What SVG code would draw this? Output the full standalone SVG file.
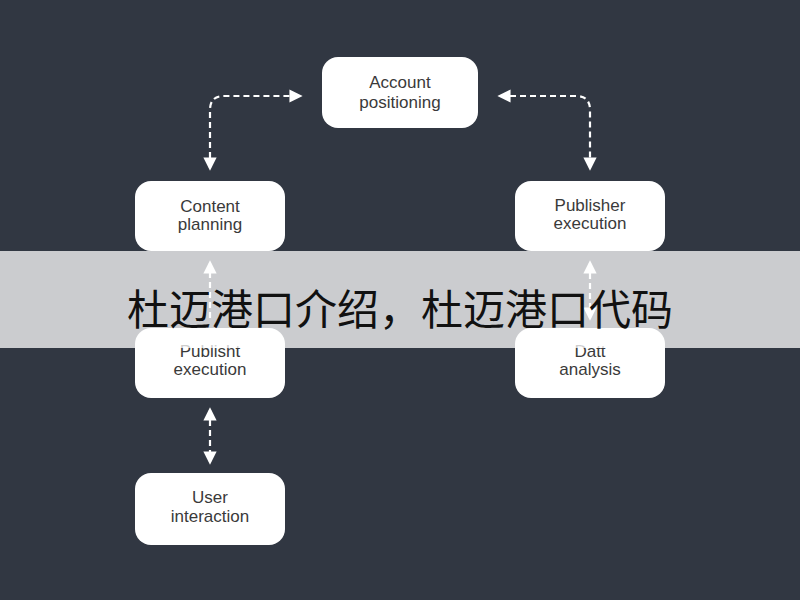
<svg xmlns="http://www.w3.org/2000/svg" width="800" height="600" viewBox="0 0 800 600">
<defs>
<style>
.box{fill:#fff;rx:16}
.lbl{font-family:"Liberation Sans",Arial,sans-serif;font-size:17px;fill:#3a3a3a;text-anchor:middle}
.con{fill:none;stroke:#fff;stroke-width:2.2;stroke-dasharray:6 4}
.band{font-family:"Noto Sans CJK SC",sans-serif;font-size:42px;fill:#111;text-anchor:middle}
</style>
<marker id="ah" viewBox="0 0 10 10" refX="8" refY="5" markerWidth="6" markerHeight="6" orient="auto-start-reverse">
<path d="M0,0 L10,5 L0,10 z" fill="#fff"/>
</marker>
</defs>
<rect width="800" height="600" fill="#313742"/>
<g id="connectors">
<path class="con" d="M210,168 V110 Q210,96 224,96 H300" marker-start="url(#ah)" marker-end="url(#ah)"/>
<path class="con" d="M500,96 H576 Q590,96 590,110 V168" marker-start="url(#ah)" marker-end="url(#ah)"/>
<path class="con" d="M210,318 V263" marker-end="url(#ah)"/>
<path class="con" d="M590,263 V318" marker-start="url(#ah)" marker-end="url(#ah)"/>
<path class="con" d="M210,410 V462" marker-start="url(#ah)" marker-end="url(#ah)"/>
</g>
<g id="account"><rect class="box" x="322" y="57" width="156" height="71" rx="16"/><text class="lbl" x="400" y="88">Account</text><text class="lbl" x="400" y="108">positioning</text></g>
<g id="content"><rect class="box" x="135" y="181" width="150" height="70" rx="16"/><text class="lbl" x="210" y="212">Content</text><text class="lbl" x="210" y="230">planning</text></g>
<g id="publisher"><rect class="box" x="515" y="181" width="150" height="70" rx="16"/><text class="lbl" x="590" y="211">Publisher</text><text class="lbl" x="590" y="229">execution</text></g>
<g id="publish"><rect class="box" x="135" y="328" width="150" height="70" rx="16"/><text class="lbl" x="210" y="357">Publisht</text><text class="lbl" x="210" y="375">execution</text></g>
<g id="data"><rect class="box" x="515" y="328" width="150" height="70" rx="16"/><text class="lbl" x="590" y="357">Datt</text><text class="lbl" x="590" y="375">analysis</text></g>
<g id="user"><rect class="box" x="135" y="473" width="150" height="72" rx="16"/><text class="lbl" x="210" y="503">User</text><text class="lbl" x="210" y="522">interaction</text></g>
<rect x="0" y="251" width="800" height="97" fill="#fff" opacity="0.75"/>
<text class="band" x="400" y="325">杜迈港口介绍，杜迈港口代码</text>
</svg>
